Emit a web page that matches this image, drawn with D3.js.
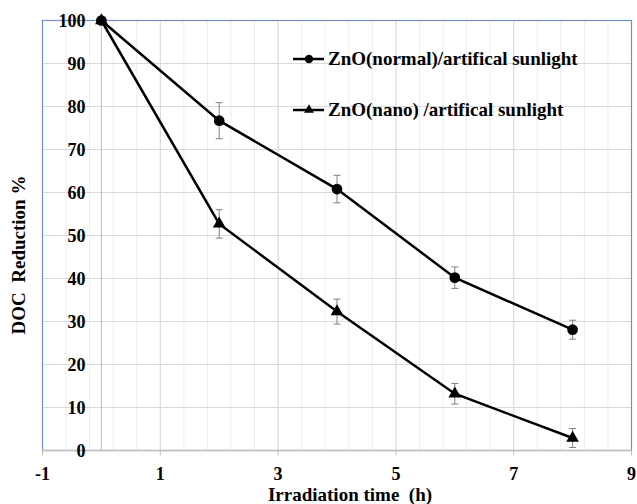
<!DOCTYPE html>
<html>
<head>
<meta charset="utf-8">
<script src="https://cdn.jsdelivr.net/npm/d3@7"></script>
<style>
  body { margin: 0; background: #fff; }
  text { font-family: "Liberation Serif", "Times New Roman", serif; font-weight: bold; white-space: pre; }
</style>
</head>
<body>
<div></div>
<script>
let times = [0, 2, 4, 6, 8]
let normalVals = [100, 76.7, 60.8, 40.2, 28.1]
let normalErr = [0, 4.2, 3.2, 2.5, 2.2]
let nanoVals = [100, 52.7, 32.3, 13.2, 2.9]
let nanoErr = [0, 3.3, 2.9, 2.4, 2.2]
let xTicks = [-1, 1, 3, 5, 7, 9]
let yTicks = [0, 10, 20, 30, 40, 50, 60, 70, 80, 90, 100]
let seriesNames = ["ZnO(normal)/artifical sunlight", "ZnO(nano) /artifical sunlight"]

let w = 637, h = 504;
let svg = d3.select("div").append("svg").attr("width", w).attr("height", h);

let x = d3.scaleLinear().domain([-1, 9]).range([42.5, 631.5]);
let y = d3.scaleLinear().domain([0, 100]).range([450.5, 20.5]);

// minor vertical gridlines every 0.4
let minor = d3.range(0, 26).map(i => -1 + i * 0.4);
svg.append("g").selectAll("line").data(minor).enter().append("line")
    .attr("x1", d => x(d)).attr("x2", d => x(d))
    .attr("y1", y(100)).attr("y2", y(0))
    .attr("stroke", "#ededed").attr("stroke-width", 1);

// major gridlines
svg.append("g").selectAll("line").data(xTicks).enter().append("line")
    .attr("x1", d => x(d)).attr("x2", d => x(d))
    .attr("y1", y(100)).attr("y2", y(0))
    .attr("stroke", "#d9d9d9").attr("stroke-width", 1);
svg.append("g").selectAll("line").data(yTicks).enter().append("line")
    .attr("x1", x(-1)).attr("x2", x(9))
    .attr("y1", d => y(d)).attr("y2", d => y(d))
    .attr("stroke", "#d9d9d9").attr("stroke-width", 1);

// plot area border (blue)
svg.append("rect")
    .attr("x", x(-1)).attr("y", y(100))
    .attr("width", x(9) - x(-1)).attr("height", y(0) - y(100))
    .attr("fill", "none").attr("stroke", "#6d93c8").attr("stroke-width", 1.2);

// x axis line (at y=0) and y axis line (at x=0)
svg.append("line").attr("x1", x(-1)).attr("x2", x(9)).attr("y1", y(0)).attr("y2", y(0))
    .attr("stroke", "#bfbfbf").attr("stroke-width", 1.5);
svg.append("line").attr("x1", x(0)).attr("x2", x(0)).attr("y1", y(0)).attr("y2", y(100))
    .attr("stroke", "#c8c8c8").attr("stroke-width", 1.2);

// x tick marks
svg.append("g").selectAll("line").data(xTicks).enter().append("line")
    .attr("x1", d => x(d)).attr("x2", d => x(d))
    .attr("y1", y(0)).attr("y2", y(0) + 5)
    .attr("stroke", "#bfbfbf");

// tick labels
svg.append("g").selectAll("text").data(xTicks).enter().append("text")
    .attr("x", d => x(d)).attr("y", 480)
    .attr("text-anchor", "middle").attr("font-size", 18)
    .text(d => d);
svg.append("g").selectAll("text").data(yTicks).enter().append("text")
    .attr("x", x(0) - 16).attr("y", d => y(d) + 6.5)
    .attr("text-anchor", "end").attr("font-size", 18)
    .text(d => d);

// axis titles
svg.append("text").attr("x", 350).attr("y", 501)
    .attr("text-anchor", "middle").attr("font-size", 19)
    .text("Irradiation time  (h)");
svg.append("text").attr("transform", "translate(25," + 255 + ") rotate(-90)")
    .attr("text-anchor", "middle").attr("font-size", 19)
    .text("DOC  Reduction %");

let line = d3.line().x(d => x(d[0])).y(d => y(d[1]));
let series = [
    { vals: normalVals, err: normalErr, shape: d3.symbolCircle, size: 90 },
    { vals: nanoVals, err: nanoErr, shape: d3.symbolTriangle, size: 70 }
];

series.forEach(s => {
    let pts = times.map((t, i) => [t, s.vals[i], s.err[i]]);
    let eb = svg.append("g").attr("stroke", "#808080").attr("stroke-width", 1);
    pts.filter(p => p[2] > 0).forEach(p => {
        eb.append("line").attr("x1", x(p[0])).attr("x2", x(p[0]))
            .attr("y1", y(p[1] - p[2])).attr("y2", y(p[1] + p[2]));
        eb.append("line").attr("x1", x(p[0]) - 3.5).attr("x2", x(p[0]) + 3.5)
            .attr("y1", y(p[1] - p[2])).attr("y2", y(p[1] - p[2]));
        eb.append("line").attr("x1", x(p[0]) - 3.5).attr("x2", x(p[0]) + 3.5)
            .attr("y1", y(p[1] + p[2])).attr("y2", y(p[1] + p[2]));
    });
    svg.append("path").datum(pts).attr("d", line)
        .attr("fill", "none").attr("stroke", "#000").attr("stroke-width", 2.5);
    svg.append("g").selectAll("path").data(pts).enter().append("path")
        .attr("d", d3.symbol().type(s.shape).size(s.size))
        .attr("transform", d => "translate(" + x(d[0]) + "," + y(d[1]) + ")")
        .attr("fill", "#000");
});

// legend
let lg = svg.append("g");
series.forEach((s, i) => {
    let ly = 59 + i * 51;
    lg.append("line").attr("x1", 293).attr("x2", 324).attr("y1", ly).attr("y2", ly)
        .attr("stroke", "#000").attr("stroke-width", 2.5);
    lg.append("path").attr("d", d3.symbol().type(s.shape).size(s.size * 0.6))
        .attr("transform", "translate(309," + ly + ")");
    lg.append("text").attr("x", 328).attr("y", ly + 5.5).attr("font-size", 19)
        .text(seriesNames[i]);
});
</script>
</body>
</html>
